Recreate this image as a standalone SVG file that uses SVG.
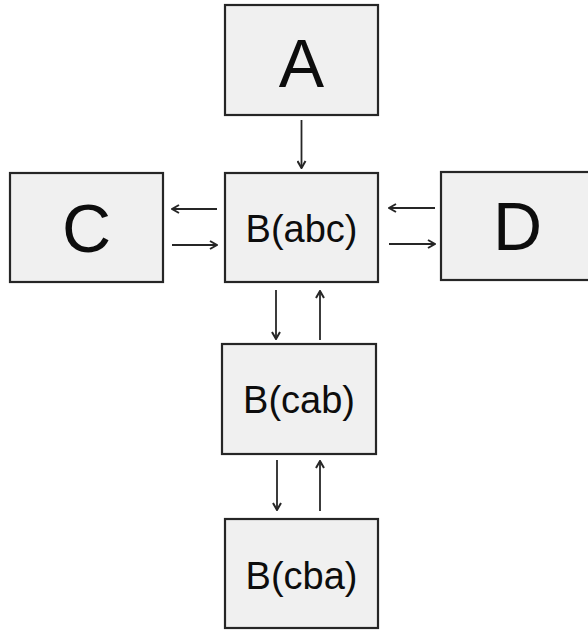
<svg xmlns="http://www.w3.org/2000/svg" width="588" height="630" viewBox="0 0 588 630">
<style>
.box{fill:#f0f0f0;stroke:#262626;stroke-width:2.2}
.big{font-family:"Liberation Sans",Arial,sans-serif;font-size:68px;fill:#0d0d0d;text-anchor:middle}
.mid{font-family:"Liberation Sans",Arial,sans-serif;font-size:38px;fill:#0d0d0d;text-anchor:middle}
.edge{stroke:#262626;stroke-width:1.8;fill:none;marker-end:url(#ah)}
</style>
<defs>
<marker id="ah" viewBox="0 0 10 10" refX="9" refY="5" markerWidth="10" markerHeight="10" orient="auto" markerUnits="userSpaceOnUse">
<path d="M2,1 L9,5 L2,9" fill="none" stroke="#262626" stroke-width="2"/>
</marker>
</defs>
<g id="connectors">
<line class="edge" x1="301.5" y1="120" x2="301.5" y2="168"/>
<line class="edge" x1="217" y1="209" x2="172" y2="209"/>
<line class="edge" x1="172" y1="245" x2="217" y2="245"/>
<line class="edge" x1="435" y1="208" x2="389" y2="208"/>
<line class="edge" x1="389" y1="244" x2="435" y2="244"/>
<line class="edge" x1="276" y1="290" x2="276" y2="339"/>
<line class="edge" x1="320" y1="340" x2="320" y2="291"/>
<line class="edge" x1="277" y1="460" x2="277" y2="510"/>
<line class="edge" x1="320" y1="511" x2="320" y2="461"/>
</g>
<g id="A">
<rect class="box" x="225" y="5" width="153" height="110"/>
<text class="big" x="301.5" y="87">A</text>
</g>
<g id="C">
<rect class="box" x="10" y="173" width="153" height="109"/>
<text class="big" x="86.5" y="252">C</text>
</g>
<g id="D">
<rect class="box" x="441" y="172" width="153" height="108"/>
<text class="big" x="517.5" y="250">D</text>
</g>
<g id="Babc">
<rect class="box" x="225" y="173" width="153" height="109"/>
<text class="mid" x="301.5" y="242">B(abc)</text>
</g>
<g id="Bcab">
<rect class="box" x="222" y="344" width="154" height="110"/>
<text class="mid" x="299" y="413">B(cab)</text>
</g>
<g id="Bcba">
<rect class="box" x="225" y="519" width="153" height="109"/>
<text class="mid" x="301.5" y="589">B(cba)</text>
</g>
</svg>
